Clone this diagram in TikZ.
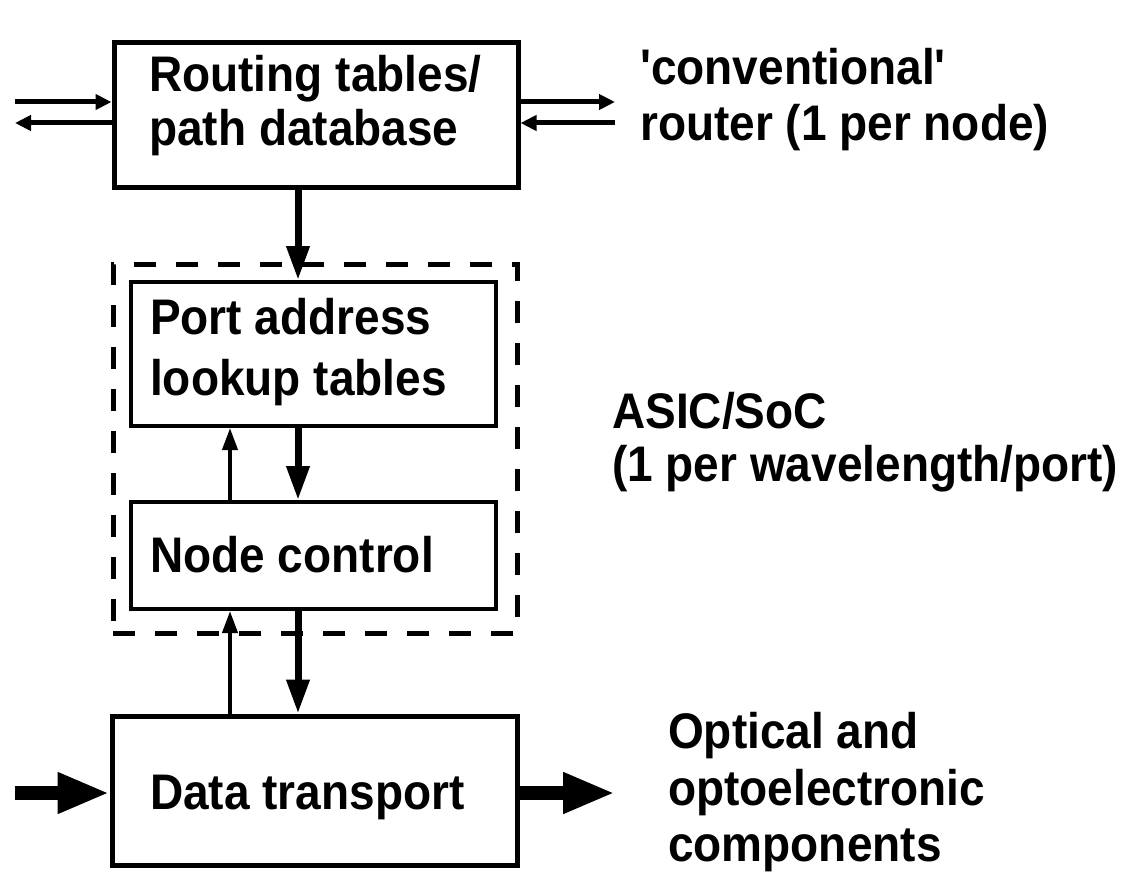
\documentclass[tikz,border=0pt]{standalone}
\usepackage{fontspec}
\newfontfamily\diafont{Liberation Sans}[FakeStretch=0.92,Ligatures=TeXOff]
\usetikzlibrary{arrows.meta}

\begin{document}
\begin{tikzpicture}[x=1pt,y=-1pt,
  box/.style={draw, line width=5pt, inner sep=0pt},
  txt/.style={anchor=base west, inner sep=0pt, font=\diafont\bfseries\fontsize{50}{50}\selectfont},
  thin/.style={line width=5pt, -{Triangle[length=16pt,width=15pt]}},
  ctl/.style={line width=4pt, -{Triangle[length=22pt,width=15pt]}},
  fat/.style={line width=7pt, -{Triangle[length=34pt,width=22pt]}},
  flow/.style={line width=14pt, -{Triangle[length=52pt,width=38pt]}}]

\useasboundingbox (0,0) rectangle (1126,872);

\coordinate (down) at (298,0);
\coordinate (up) at (230,0);
\coordinate (tl1) at (15,102);
\coordinate (tl2) at (15,123);
\coordinate (tr1) at (615,102);
\coordinate (tr2) at (615,123);
\coordinate (bl) at (15,793);
\coordinate (br) at (615,793);

% cajas
\node[box, minimum width=404pt, minimum height=144pt] (route) at (316,115) {};
\node[box, dash pattern=on 22pt off 20pt, minimum width=404pt, minimum height=369pt] (chip) at (315,448.5) {};
\node[box, line width=4pt, minimum width=365pt, minimum height=144pt] (port) at (313.5,354) {};
\node[box, line width=4pt, minimum width=365pt, minimum height=107pt] (ctrl) at (313.5,555.5) {};
\node[box, minimum width=405pt, minimum height=149pt] (data) at (314.5,790.5) {};

% flechas verticales
\draw[fat] (route.south -| down) -- (port.north -| down);
\draw[fat] (port.south -| down) -- (ctrl.north -| down);
\draw[fat] (ctrl.south -| down) -- (data.north -| down);
\draw[ctl] (ctrl.north -| up) -- (port.south -| up);
\draw[ctl] (data.north -| up) -- (ctrl.south -| up);

% flechas laterales
\draw[thin] (tl1) -- (tl1 -| route.west);
\draw[thin] (tl2 -| route.west) -- (tl2);
\draw[thin] (route.east |- tr1) -- (tr1);
\draw[thin] (tr2) -- (route.east |- tr2);
\draw[flow] (bl) -- (bl -| data.west);
\draw[flow] (data.east |- br) -- (br);

% textos de las cajas
\node[txt] (route-a) at (149,92) {Routing tables/};
\node[txt] (route-b) at (149,145) {path database};
\node[txt] (port-a) at (150,334) {Port address};
\node[txt] (port-b) at (150,395) {lookup tables};
\node[txt] (ctrl-a) at (150,572) {Node control};
\node[txt] (data-a) at (150,809) {Data transport};

% textos de la derecha
\node[txt] (rtr-a) at (640,85) {'conventional'};
\node[txt] (rtr-b) at (640,140) {router (1 per node)};
\node[txt] (chip-a) at (612,428) {ASIC/SoC};
\node[txt] (chip-b) at (612,481) {(1 per wavelength/port)};
\node[txt] (opt-a) at (668,748) {Optical and};
\node[txt] (opt-b) at (668,805) {optoelectronic};
\node[txt] (opt-c) at (668,861) {components};
\end{tikzpicture}
\end{document}
